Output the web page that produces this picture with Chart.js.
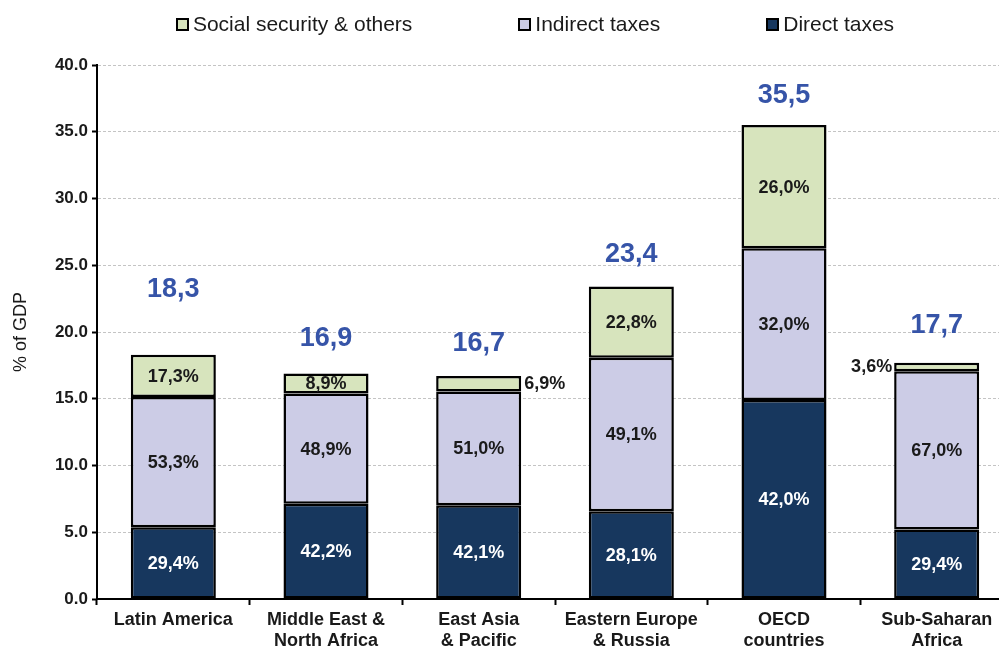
<!DOCTYPE html>
<html lang="en">
<head>
  <meta charset="UTF-8">
  <title>Tax revenue by region</title>
  <style>
    body {
      margin: 0;
      padding: 0;
      background: #fff;
      overflow: hidden;
      font-family: "Liberation Sans", Arial, sans-serif;
    }
    .wrap {
      position: relative;
      width: 1014px;
      height: 656px;
    }
    #legend {
      position: absolute;
      left: 0;
      top: 0;
      width: 1070px;
      height: 48px;
      display: flex;
      justify-content: center;
      align-items: center;
      gap: 106px;
    }
    .item {
      display: flex;
      align-items: center;
      font-size: 21px;
      color: #1a1a1a;
    }
    .box {
      width: 9px;
      height: 9px;
      border: 2px solid #000;
      margin-right: 4px;
    }
  </style>
</head>
<body>
  <div class="wrap">
    <div id="legend"></div>
    <canvas id="taxChart" width="1014" height="656"></canvas>
  </div>

  <script src="https://cdn.jsdelivr.net/npm/chart.js"></script>

  <script>
    // Regions and total tax take (% of GDP)
    const regions = [
      ['Latin America'],
      ['Middle East &', 'North Africa'],
      ['East Asia', '& Pacific'],
      ['Eastern Europe', '& Russia'],
      ['OECD', 'countries'],
      ['Sub-Saharan', 'Africa']
    ];
    const totals = [18.3, 16.9, 16.7, 23.4, 35.5, 17.7];

    // Share of each tax type in the total (%)
    const directShare = [29.4, 42.2, 42.1, 28.1, 42.0, 29.4];
    const indirectShare = [53.3, 48.9, 51.0, 49.1, 32.0, 67.0];
    const socialShare = [17.3, 8.9, 6.9, 22.8, 26.0, 3.6];

    const yTicks = { min: 0, max: 40, step: 5 };

    const shareSeries = [directShare, indirectShare, socialShare];
    const toGdp = shares => shares.map((s, i) => totals[i] * s / 100);
    const comma = v => v.toFixed(1).replace('.', ',');

    // Percent labels inside segments, totals on top of each stack
    const valueLabels = {
      id: 'valueLabels',
      afterDatasetsDraw(chart, args, opts) {
        const ctx = chart.ctx;
        ctx.save();
        ctx.textBaseline = 'middle';
        ctx.font = 'bold 18px "Liberation Sans", Arial, sans-serif';
        chart.data.datasets.forEach((ds, di) => {
          const meta = chart.getDatasetMeta(di);
          meta.data.forEach((bar, i) => {
            const text = comma(shareSeries[di][i]) + '%';
            const cy = (bar.y + bar.base) / 2;
            const side = opts.outside[di + ',' + i];
            ctx.fillStyle = di === 0 ? '#ffffff' : '#1a1a1a';
            if (side === 'right') {
              ctx.textAlign = 'left';
              ctx.fillText(text, bar.x + bar.width / 2 + 3, cy);
            } else if (side === 'left') {
              ctx.textAlign = 'right';
              ctx.fillText(text, bar.x - bar.width / 2 - 2, cy);
            } else {
              ctx.textAlign = 'center';
              ctx.fillText(text, bar.x, cy + 1);
            }
          });
        });

        const topMeta = chart.getDatasetMeta(chart.data.datasets.length - 1);
        ctx.font = 'bold 27px "Liberation Sans", Arial, sans-serif';
        ctx.fillStyle = '#3654a8';
        ctx.textAlign = 'center';
        topMeta.data.forEach((bar, i) => {
          ctx.fillText(comma(totals[i]), bar.x, bar.y - opts.lift[i]);
        });
        ctx.restore();
      }
    };

    // Legend built as HTML, top stack segment first
    const htmlLegend = {
      id: 'htmlLegend',
      afterUpdate(chart) {
        const box = document.getElementById('legend');
        box.innerHTML = '';
        chart.data.datasets.slice().reverse().forEach(ds => {
          const item = document.createElement('div');
          item.className = 'item';
          const sw = document.createElement('span');
          sw.className = 'box';
          sw.style.background = ds.backgroundColor;
          item.appendChild(sw);
          item.appendChild(document.createTextNode(ds.label));
          box.appendChild(item);
        });
      }
    };

    const barStyle = {
      borderColor: '#000000',
      borderWidth: 2.5,
      borderSkipped: false,
      categoryPercentage: 1.0,
      barPercentage: 0.557
    };

    new Chart(document.getElementById('taxChart'), {
      type: 'bar',
      data: {
        labels: regions,
        datasets: [
          { label: 'Direct taxes', data: toGdp(directShare), backgroundColor: '#17375e', ...barStyle },
          { label: 'Indirect taxes', data: toGdp(indirectShare), backgroundColor: '#ccccE6', ...barStyle },
          { label: 'Social security & others', data: toGdp(socialShare), backgroundColor: '#d7e4bd', ...barStyle }
        ]
      },
      options: {
        responsive: false,
        animation: false,
        layout: { padding: { top: 65, right: 1, bottom: 0, left: 0 } },
        plugins: {
          legend: { display: false },
          tooltip: { enabled: false },
          valueLabels: {
            lift: [65, 35, 33, 32, 30, 37],
            outside: { '2,2': 'right', '2,5': 'left' }
          }
        },
        scales: {
          x: {
            stacked: true,
            afterFit: s => { s.height = 57; },
            grid: {
              drawOnChartArea: false,
              offset: true,
              tickLength: 6,
              tickColor: '#000000',
              tickWidth: 2
            },
            border: { color: '#000000', width: 2 },
            ticks: {
              color: '#1a1a1a',
              padding: 4,
              font: { family: '"Liberation Sans", Arial, sans-serif', size: 18, weight: 'bold', lineHeight: 1.2 }
            }
          },
          y: {
            stacked: true,
            min: yTicks.min,
            max: yTicks.max,
            afterFit: s => { s.width = 97; },
            grid: {
              color: '#c4c4c4',
              lineWidth: 1,
              tickLength: 5,
              tickColor: '#000000',
              tickWidth: 2,
              tickBorderDash: []
            },
            border: { color: '#000000', width: 2, dash: [3, 2] },
            ticks: {
              stepSize: yTicks.step,
              color: '#1a1a1a',
              padding: 4,
              callback: v => v.toFixed(1),
              font: { family: '"Liberation Sans", Arial, sans-serif', size: 17, weight: 'bold' }
            },
            title: {
              display: true,
              text: '% of GDP',
              color: '#1a1a1a',
              padding: { top: 10, bottom: 0 },
              font: { family: '"Liberation Sans", Arial, sans-serif', size: 18 }
            }
          }
        }
      },
      plugins: [valueLabels, htmlLegend]
    });
  </script>
</body>
</html>
